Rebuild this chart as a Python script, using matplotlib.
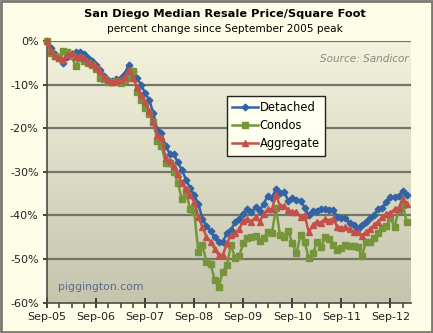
import matplotlib
matplotlib.use("Agg")
import matplotlib.pyplot as plt
from matplotlib.colors import LinearSegmentedColormap
import numpy as np

# monthly % change since Sep 2005, Sep-05 .. Jan-13
detached = [0, -1.5, -3.0, -3.8, -5.0, -3.6, -3.2, -2.6, -2.5, -2.9,
            -4.0, -4.6, -5.5, -6.6, -8.0, -9.0, -9.2, -8.8, -8.6, -7.5,
            -5.4, -7.0, -8.6, -10.0, -12.0, -13.5, -16.5, -20.5, -21.2, -24.0,
            -25.8, -26.0, -27.8, -29.6, -31.8, -33.7, -35.4, -37.3, -40.7, -42.5,
            -43.5, -45.0, -46.0, -46.0, -44.1, -43.4, -41.5, -40.8, -39.6, -38.6,
            -39.3, -38.1, -38.9, -37.3, -35.5, -35.9, -34.0, -34.8, -34.6, -36.6,
            -36.1, -36.5, -36.6, -38.2, -40.0, -39.0, -38.9, -38.6, -38.6, -38.7,
            -38.7, -40.4, -40.5, -40.6, -41.7, -42.1, -43.0, -42.2, -41.4, -40.6,
            -39.8, -38.6, -38.3, -36.9, -35.8, -35.8, -35.5, -34.5, -35.3]
condos = [0, -2.8, -3.5, -4.0, -2.3, -2.6, -3.5, -5.8, -3.8, -4.5,
          -5.0, -5.5, -6.5, -8.5, -8.8, -9.5, -9.3, -9.2, -9.7, -9.0,
          -8.5, -6.8, -11.8, -13.5, -15.4, -16.8, -18.5, -22.9, -24.0, -27.9,
          -28.0, -30.0, -32.5, -36.3, -34.5, -38.6, -39.1, -48.3, -46.8, -50.6,
          -51.1, -54.7, -56.3, -52.9, -51.4, -46.8, -49.8, -49.3, -46.4, -45.2,
          -44.9, -44.7, -45.8, -45.2, -43.7, -44.1, -38.3, -44.5, -44.9, -43.6,
          -46.4, -48.7, -44.5, -46.0, -49.8, -48.7, -46.2, -47.2, -45.0, -45.5,
          -46.8, -47.9, -47.5, -46.8, -47.0, -47.0, -47.2, -49.3, -46.2, -46.0,
          -45.2, -44.1, -42.9, -42.4, -40.6, -42.7, -38.7, -37.6, -41.6]
aggregate = [0, -2.2, -3.5, -4.0, -4.3, -3.3, -2.8, -3.6, -3.4, -3.8,
             -4.8, -5.2, -6.0, -7.0, -8.3, -9.0, -9.3, -9.1, -9.0, -8.3,
             -6.6, -8.4, -10.5, -12.5, -14.0, -16.0, -18.5, -21.5, -22.0, -26.8,
             -27.6, -28.6, -30.6, -32.6, -33.9, -35.4, -36.9, -40.3, -42.6, -44.9,
             -46.0, -47.6, -49.1, -49.1, -46.4, -44.5, -44.1, -43.2, -41.2, -40.8,
             -41.4, -40.4, -41.4, -39.6, -38.6, -38.6, -35.4, -37.8, -37.8, -38.8,
             -39.2, -39.1, -40.4, -39.8, -43.8, -42.2, -41.4, -41.7, -40.8, -41.2,
             -40.8, -42.7, -42.9, -42.7, -43.1, -43.8, -43.8, -44.6, -43.8, -43.1,
             -42.2, -41.4, -40.4, -39.6, -39.4, -38.6, -38.3, -36.2, -37.3]
year_labels = ["Sep-05", "Sep-06", "Sep-07", "Sep-08", "Sep-09",
               "Sep-10", "Sep-11", "Sep-12"]

months = np.arange(len(detached))

bg = "#FEFEE8"
grid_c = "#74746A"

fig = plt.figure(figsize=(4.33, 3.33), dpi=100, facecolor=bg)
ax = fig.add_axes([0.1085, 0.091, 0.8405, 0.786])

# shaded plot area
grad = np.linspace(0, 1, 256).reshape(-1, 1)
cmap = LinearSegmentedColormap.from_list("pa", ["#F3F3DD", "#DCDCC6", "#C5C5AE"])
ax.imshow(grad, extent=[0, 89, -60, 0], aspect="auto", cmap=cmap,
          origin="upper", zorder=0)

for yv in range(-50, 1, 10):
    ax.axhline(yv, color=grid_c, lw=1.6, zorder=1)

ax.plot(months, detached, color="#3463A3", lw=1.8, marker="D", ms=3.4,
        label="Detached", zorder=3, clip_on=False)
ax.plot(months, condos, color="#76953A", lw=1.8, marker="s", ms=3.8,
        label="Condos", zorder=4, clip_on=False)
ax.plot(months, aggregate, color="#C4504C", lw=1.8, marker="^", ms=3.8,
        label="Aggregate", zorder=5, clip_on=False)

ax.set_xlim(0, 89)
ax.set_ylim(-60, 0)
ax.set_xticks(np.arange(0, 85, 12))
ax.set_xticklabels(year_labels)
ax.set_xticks(np.arange(0, 89, 3), minor=True)
ax.set_yticks(np.arange(-60, 1, 10))
ax.set_yticklabels(["%d%%" % v for v in range(-60, 1, 10)])

for side in ["top", "right"]:
    ax.spines[side].set_visible(False)
for side in ["left", "bottom"]:
    ax.spines[side].set_color("#4A4A44")
    ax.spines[side].set_linewidth(1.2)
ax.tick_params(axis="both", labelsize=8, colors="#222222", width=1.2)
ax.tick_params(axis="x", which="major", direction="inout", length=7, pad=3)
ax.tick_params(axis="x", which="minor", direction="out", length=3.5,
               width=1.2, color="#4A4A44")
ax.tick_params(axis="y", direction="out", length=3, pad=3)

fig.text(0.52, 0.958, "San Diego Median Resale Price/Square Foot",
         ha="center", va="center", fontsize=8.2, fontweight="bold")
fig.text(0.52, 0.914, "percent change since September 2005 peak",
         ha="center", va="center", fontsize=7.6)
ax.text(0.995, 0.93, "Source: Sandicor", transform=ax.transAxes,
        ha="right", va="center", fontsize=7.6, style="italic", color="#8A8A80")
ax.text(0.03, 0.06, "piggington.com", transform=ax.transAxes,
        ha="left", va="center", fontsize=7.8, color="#5C6896")

leg = ax.legend(loc="upper left", bbox_to_anchor=(0.495, 0.79), fontsize=8.3,
                frameon=True, fancybox=False, borderpad=0.45,
                handlelength=2.2, handletextpad=0.15, labelspacing=0.45,
                borderaxespad=0)
leg.get_frame().set_facecolor("#FFFFF0")
leg.get_frame().set_edgecolor("#222222")
leg.get_frame().set_linewidth(1.0)
leg.get_frame().set_alpha(1)

# outer frame
fig.patches.append(plt.Rectangle((0.003, 0.004), 0.994, 0.992,
                                 transform=fig.transFigure, fill=False,
                                 edgecolor="#7A7A74", lw=2.0))

fig.savefig("out.png", dpi=100, facecolor=bg)
